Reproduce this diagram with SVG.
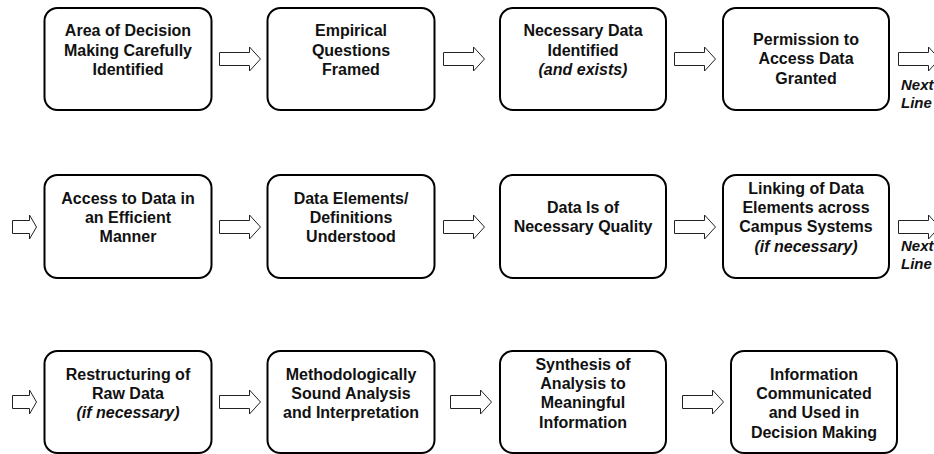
<svg xmlns="http://www.w3.org/2000/svg" xmlns:xlink="http://www.w3.org/1999/xlink" width="934" height="454" viewBox="0 0 934 454">
<style>
.box{fill:#fff;stroke:#000;stroke-width:2}
.t{font-family:"Liberation Sans",Arial,sans-serif;font-weight:bold;font-size:16px;fill:#111;text-anchor:middle}
.i{font-style:italic}
.nl{font-family:"Liberation Sans",Arial,sans-serif;font-weight:bold;font-style:italic;font-size:15px;fill:#111}
.arr{fill:#fff;stroke:#222;stroke-width:1}
</style>
<defs>
<path id="big" class="arr" d="M0,-6.5 H30 V-12 L41,0 L30,12 V6.5 H0 Z"/>
<path id="small" class="arr" d="M0,-6.5 H17 V-12 L24,0 L17,12 V6.5 H0 Z"/>
</defs>
<rect width="934" height="454" fill="#fff"/>
<g id="connectors">
<use xlink:href="#big" transform="translate(219.5,59)"/>
<use xlink:href="#big" transform="translate(443.5,59)"/>
<use xlink:href="#big" transform="translate(674.5,59)"/>
<use xlink:href="#big" transform="translate(898.5,59)"/>
<use xlink:href="#small" transform="translate(12.5,227)"/>
<use xlink:href="#big" transform="translate(219.5,227)"/>
<use xlink:href="#big" transform="translate(443.5,227)"/>
<use xlink:href="#big" transform="translate(674.5,227)"/>
<use xlink:href="#big" transform="translate(898.5,227)"/>
<use xlink:href="#small" transform="translate(12.5,402)"/>
<use xlink:href="#big" transform="translate(219.5,402)"/>
<use xlink:href="#big" transform="translate(450.5,402)"/>
<use xlink:href="#big" transform="translate(682.5,402)"/>
<text class="nl" x="901" y="90">Next</text>
<text class="nl" x="901" y="108">Line</text>
<text class="nl" x="901" y="251">Next</text>
<text class="nl" x="901" y="269">Line</text>
</g>
<g id="n1"><rect class="box" x="44.5" y="8" width="167" height="102" rx="13"/>
<text class="t" x="128" y="36">Area of Decision</text><text class="t" x="128" y="55.5">Making Carefully</text><text class="t" x="128" y="75">Identified</text></g>
<g id="n2"><rect class="box" x="267.5" y="8" width="167" height="102" rx="13"/>
<text class="t" x="351" y="36">Empirical</text><text class="t" x="351" y="55.5">Questions</text><text class="t" x="351" y="75">Framed</text></g>
<g id="n3"><rect class="box" x="500" y="8" width="166" height="102" rx="13"/>
<text class="t" x="583" y="36">Necessary Data</text><text class="t" x="583" y="55.5">Identified</text><text class="t i" x="583" y="75">(and exists)</text></g>
<g id="n4"><rect class="box" x="723" y="8" width="166" height="102" rx="13"/>
<text class="t" x="806" y="45">Permission to</text><text class="t" x="806" y="64">Access Data</text><text class="t" x="806" y="83.5">Granted</text></g>
<g id="n5"><rect class="box" x="44.5" y="175" width="167" height="103" rx="13"/>
<text class="t" x="128" y="204">Access to Data in</text><text class="t" x="128" y="223">an Efficient</text><text class="t" x="128" y="242">Manner</text></g>
<g id="n6"><rect class="box" x="267.5" y="175" width="167" height="103" rx="13"/>
<text class="t" x="351" y="204">Data Elements/</text><text class="t" x="351" y="223">Definitions</text><text class="t" x="351" y="242">Understood</text></g>
<g id="n7"><rect class="box" x="500" y="175" width="166" height="103" rx="13"/>
<text class="t" x="583" y="213">Data Is of</text><text class="t" x="583" y="232">Necessary Quality</text></g>
<g id="n8"><rect class="box" x="723" y="175" width="166" height="103" rx="13"/>
<text class="t" x="806" y="194">Linking of Data</text><text class="t" x="806" y="213">Elements across</text><text class="t" x="806" y="232">Campus Systems</text><text class="t i" x="806" y="252">(if necessary)</text></g>
<g id="n9"><rect class="box" x="44.5" y="351" width="167" height="102" rx="13"/>
<text class="t" x="128" y="380">Restructuring of</text><text class="t" x="128" y="399">Raw Data</text><text class="t i" x="128" y="418">(if necessary)</text></g>
<g id="n10"><rect class="box" x="267.5" y="351" width="167" height="102" rx="13"/>
<text class="t" x="351" y="380">Methodologically</text><text class="t" x="351" y="399">Sound Analysis</text><text class="t" x="351" y="418">and Interpretation</text></g>
<g id="n11"><rect class="box" x="500" y="351" width="166" height="102" rx="13"/>
<text class="t" x="583" y="370">Synthesis of</text><text class="t" x="583" y="389">Analysis to</text><text class="t" x="583" y="408">Meaningful</text><text class="t" x="583" y="428">Information</text></g>
<g id="n12"><rect class="box" x="731" y="351" width="166" height="102" rx="13"/>
<text class="t" x="814" y="380">Information</text><text class="t" x="814" y="399">Communicated</text><text class="t" x="814" y="418">and Used in</text><text class="t" x="814" y="438">Decision Making</text></g>
</svg>
